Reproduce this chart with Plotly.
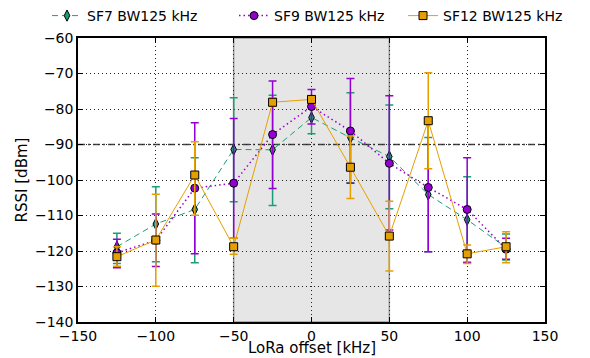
import plotly.graph_objects as go

x = [-125, -100, -75, -50, -25, 0, 25, 50, 75, 100, 125]

sf7_mean = [-118.8, -112.4, -108.3, -91.4, -91.5, -82.4, -88.1, -93.4, -104.1, -111.2, -119.0]
sf7_top = [-115.0, -101.9, -93.7, -76.8, -76.1, -77.8, -75.4, -78.9, -88.0, -99.1, -115.2]
sf7_bot = [-123.5, -123.0, -123.3, -106.1, -107.2, -87.0, -100.8, -108.1, -120.2, -123.3, -122.5]

sf9_mean = [-120.5, -117.0, -102.3, -100.9, -87.2, -79.3, -86.2, -95.3, -102.1, -108.3, -119.5]
sf9_top = [-116.7, -109.6, -83.9, -82.7, -72.1, -74.5, -71.4, -76.3, -84.0, -93.7, -116.4]
sf9_bot = [-124.7, -124.4, -120.8, -116.4, -102.4, -84.2, -100.9, -114.1, -120.2, -123.2, -122.3]

sf12_mean = [-121.6, -116.9, -98.6, -118.8, -78.1, -77.3, -96.4, -115.8, -83.3, -120.8, -118.8]
sf12_top = [-118.8, -104.0, -89.2, -116.4, -77.0, -76.3, -87.6, -106.0, -69.8, -118.3, -114.6]
sf12_bot = [-124.3, -129.9, -109.9, -120.9, -79.2, -78.3, -105.2, -125.6, -96.8, -123.5, -123.3]

names = ["SF7 BW125 kHz", "SF9 BW125 kHz", "SF12 BW125 kHz"]
colors = ["#1b9e77", "#9400d3", "#e69f00"]
dashes = ["6px,4px", "1.5px,3px", "solid"]
widths = [1, 1.5, 1]
symbols = ["diamond-tall", "circle", "square"]
sizes = [8, 8, 8]
legend_ids = ["legend", "legend2", "legend3"]
legend_left_px = [47, 234, 403]

band = [-50, 50]
threshold = -90

W, H = 590, 358
M_L, M_R, M_T, M_B = 78, 45, 38, 36

fig = go.Figure()
series = [(sf7_mean, sf7_top, sf7_bot), (sf9_mean, sf9_top, sf9_bot), (sf12_mean, sf12_top, sf12_bot)]
for i, (m, t, b) in enumerate(series):
    fig.add_trace(go.Scatter(
        x=x, y=m, name=names[i], mode="lines+markers", legend=legend_ids[i],
        line=dict(color=colors[i], dash=dashes[i], width=widths[i]),
        marker=dict(symbol=symbols[i], size=sizes[i], color=colors[i],
                    line=dict(color="black", width=1)),
        error_y=dict(type="data", symmetric=False,
                     array=[tt - mm for tt, mm in zip(t, m)],
                     arrayminus=[mm - bb for bb, mm in zip(b, m)],
                     color=colors[i], thickness=1.5, width=4),
    ))

fig.add_shape(type="rect", xref="x", yref="paper", x0=band[0], x1=band[1], y0=0, y1=1,
              fillcolor="#e6e6e6", line=dict(color="#9a9a9a", width=1.5), layer="below")
fig.add_shape(type="line", xref="paper", yref="y", x0=0, x1=1, y0=threshold, y1=threshold,
              line=dict(color="#444444", width=1.5, dash="7px,3px,2px,3px"), layer="between")

axis_common = dict(showline=True, mirror="allticks", linecolor="black", linewidth=1.5,
                   ticks="inside", ticklen=5, tickcolor="black",
                   showgrid=True, gridcolor="#222222", griddash="1px,3px", gridwidth=1,
                   zeroline=False, tickfont=dict(size=14, color="black"))

fig.update_xaxes(range=[-150, 150], dtick=50, ticklabelstandoff=0, **axis_common)
fig.update_yaxes(range=[-140, -60], dtick=10,
                 title=dict(text="RSSI [dBm]", font=dict(size=15), standoff=4),
                 **axis_common)

plot_h = H - M_T - M_B
fig.add_annotation(text="LoRa offset [kHz]", xref="paper", yref="paper",
                   x=0.5, y=-(348 - (H - M_B)) / plot_h, xanchor="center", yanchor="middle",
                   showarrow=False, font=dict(size=15, color="black"))

legend_style = dict(orientation="h", xref="container", yref="container",
                    xanchor="left", y=1.0, yanchor="top",
                    font=dict(size=14), bgcolor="rgba(0,0,0,0)", itemwidth=30)

fig.update_layout(
    width=W, height=H,
    margin=dict(l=M_L, r=M_R, t=M_T, b=M_B, autoexpand=False),
    plot_bgcolor="white", paper_bgcolor="white",
    font=dict(family="DejaVu Sans", color="black", size=14),
    legend=dict(x=legend_left_px[0] / W, **legend_style),
    legend2=dict(x=legend_left_px[1] / W, **legend_style),
    legend3=dict(x=legend_left_px[2] / W, **legend_style),
    showlegend=True,
)

fig.write_html("out.html")
